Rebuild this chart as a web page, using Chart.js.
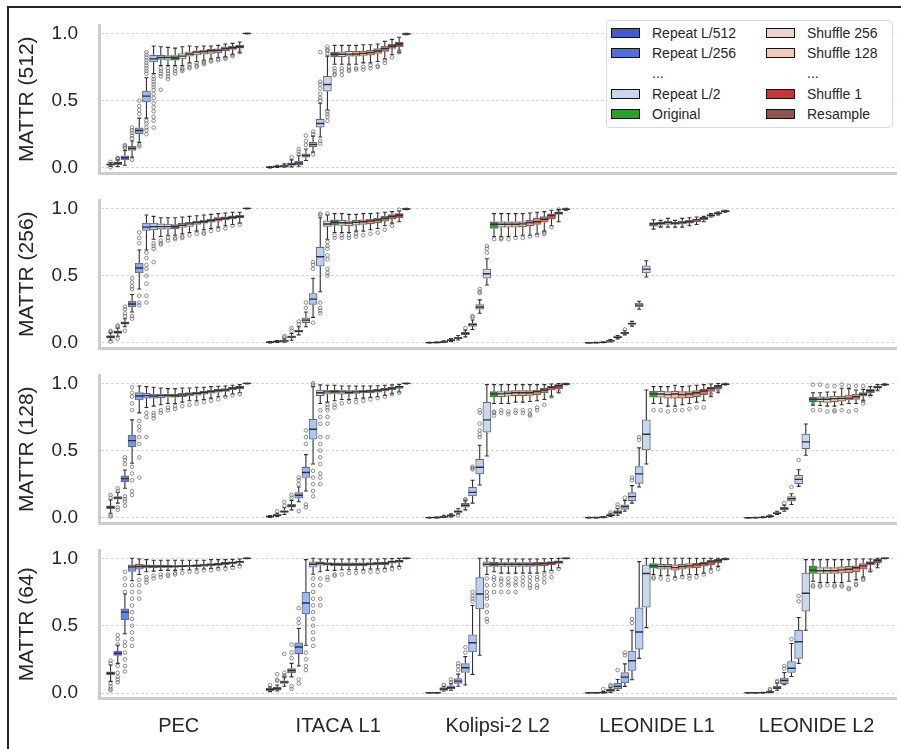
<!DOCTYPE html>
<html lang="en">
<head>
<meta charset="UTF-8">
<title>MATTR box plots</title>
<script src="https://cdn.jsdelivr.net/npm/chart.js"></script>
<style>
    body { margin: 0; background: #fff; font-family: "Liberation Sans", Arial, sans-serif; }
    #fig { position: relative; width: 901px; height: 749px; overflow: hidden; }
    #frame { position: absolute; left: 7px; top: 6px; width: 1000px; height: 1000px;
             border-left: 2px solid #222; border-top: 2px solid #222; }
    canvas { position: absolute; left: 0; }
    #legend { position: absolute; left: 606px; top: 20px; width: 285px; height: 106px;
              border: 1px solid #d9d9d9; border-radius: 4px; background: #fff; color: #262626; font-size: 14px; }
    .sw { position: absolute; width: 29px; height: 10px; box-sizing: border-box; border: 1.5px solid #111; }
    .lt { position: absolute; line-height: 16px; white-space: nowrap; }
</style>
</head>
<body>
<div id="fig">
    <div id="frame"></div>
    <canvas id="c0" width="901" height="160" style="top:18px"></canvas>
    <canvas id="c1" width="901" height="160" style="top:193px"></canvas>
    <canvas id="c2" width="901" height="160" style="top:368px"></canvas>
    <canvas id="c3" width="901" height="205" style="top:543px"></canvas>
    <div id="legend"></div>
</div>

<script>
// ---- data ----
const groupNames = ['PEC', 'ITACA L1', 'Kolipsi-2 L2', 'LEONIDE L1', 'LEONIDE L2'];
const yTitles = ['MATTR (512)', 'MATTR (256)', 'MATTR (128)', 'MATTR (64)'];

// hue order: Repeat L/512 .. L/2, Original, Shuffle 256 .. 1, Resample
const repeatColors = ['#4459cc', '#526edd', '#6384eb', '#7497f6', '#85a8fc', '#98b9ff', '#a9c6fd', '#b9d0f8', '#c9d8ef'];
const originalColor = '#2ca02c';
const shuffleColors = ['#e9d5ca', '#f1cbb7', '#f6bda2', '#f7ad8f', '#f49a7b', '#ed8468', '#e46d55', '#d65344', '#c73536'];
const resampleColor = '#8c564b';

// each box: [whisker low, q1, median, q3, whisker high]
const r512_PEC = [
    [.01, .02, .025, .03, .04], [.01, .025, .035, .045, .06], [.02, .06, .075, .09, .13], [.08, .13, .145, .16, .2],
    [.19, .255, .278, .298, .37], [.37, .49, .533, .57, .67], [.70, .787, .81, .836, .905], [.76, .806, .82, .836, .90],
    [.76, .80, .82, .835, .895], [.76, .80, .816, .835, .89], [.76, .81, .83, .85, .90], [.78, .83, .846, .862, .905],
    [.79, .84, .86, .87, .90], [.80, .845, .864, .875, .905], [.81, .85, .87, .88, .905], [.82, .855, .873, .885, .91],
    [.825, .87, .886, .90, .92], [.84, .88, .893, .905, .925], [.855, .89, .90, .91, .935], [.995, .998, .999, 1, 1]
];
const r512_ITACA = [
    [0, .002, .005, .008, .01], [.003, .007, .01, .013, .02], [.005, .01, .015, .02, .03], [.008, .018, .027, .037, .06],
    [.012, .025, .037, .05, .09], [.055, .08, .092, .105, .14], [.117, .157, .174, .19, .236], [.23, .303, .33, .36, .48],
    [.43, .57, .62, .68, .83], [.77, .826, .844, .861, .91], [.77, .826, .844, .863, .91], [.77, .83, .845, .865, .91],
    [.77, .83, .846, .865, .91], [.78, .835, .851, .868, .915], [.78, .838, .856, .873, .915], [.79, .85, .868, .886, .92],
    [.81, .866, .886, .905, .94], [.84, .888, .905, .92, .955], [.855, .90, .92, .935, .97], [.99, .993, .995, .997, 1]
];

const r256_PEC = [
    [.02, .035, .044, .055, .075], [.05, .07, .079, .09, .11], [.12, .14, .148, .157, .18], [.23, .267, .289, .309, .36],
    [.40, .519, .556, .593, .69], [.69, .835, .86, .89, .95], [.77, .84, .864, .89, .94], [.79, .845, .864, .885, .93],
    [.80, .845, .864, .883, .93], [.80, .848, .864, .879, .93], [.81, .858, .874, .889, .935], [.82, .865, .884, .896, .94],
    [.83, .88, .894, .905, .945], [.84, .89, .90, .91, .95], [.85, .897, .909, .92, .955], [.86, .905, .919, .93, .96],
    [.87, .914, .926, .937, .965], [.88, .922, .933, .943, .97], [.89, .928, .938, .948, .97], [.995, .998, .999, 1, 1]
];
const r256_ITACA = [
    [0, .003, .005, .007, .01], [.004, .008, .01, .013, .018], [.006, .011, .015, .02, .03], [.02, .037, .045, .053, .07],
    [.06, .08, .087, .095, .12], [.12, .151, .169, .186, .23], [.19, .285, .325, .367, .48], [.38, .57, .64, .71, .93],
    [.77, .865, .883, .907, .95], [.82, .875, .896, .915, .96], [.82, .872, .893, .91, .96], [.82, .87, .891, .907, .955],
    [.83, .875, .896, .91, .955], [.83, .88, .90, .915, .96], [.84, .885, .906, .92, .96], [.85, .893, .913, .927, .965],
    [.87, .905, .926, .94, .97], [.89, .92, .94, .953, .975], [.90, .93, .95, .96, .98], [.99, .993, .995, .998, 1]
];
const r256_KOL = [
    [0, .001, .002, .003, .004], [.001, .002, .003, .004, .006], [.003, .006, .008, .011, .015], [.01, .016, .02, .024, .032],
    [.022, .032, .037, .043, .055], [.045, .062, .07, .078, .095], [.10, .123, .136, .148, .17], [.22, .25, .267, .284, .32],
    [.43, .48, .514, .548, .625], [.79, .85, .881, .90, .96], [.79, .86, .881, .90, .96], [.79, .86, .881, .90, .96],
    [.79, .86, .881, .90, .96], [.80, .864, .884, .90, .96], [.80, .87, .894, .91, .965], [.81, .88, .90, .926, .97],
    [.83, .896, .918, .938, .975], [.87, .92, .946, .958, .985], [.90, .955, .965, .973, .99], [.985, .99, .993, .996, 1]
];
const r256_LEO1 = [
    [0, 0, .001, .002, .003], [0, .001, .002, .003, .005], [.001, .003, .004, .006, .009], [.008, .012, .015, .019, .025],
    [.03, .038, .042, .047, .055], [.06, .068, .074, .08, .09], [.125, .137, .143, .15, .16], [.25, .267, .281, .296, .31],
    [.49, .52, .548, .573, .61], [.845, .868, .884, .893, .915], [.86, .88, .889, .896, .91], [.86, .88, .894, .905, .925],
    [.86, .88, .889, .898, .91], [.86, .882, .894, .904, .925], [.87, .89, .90, .91, .93], [.88, .90, .914, .92, .935],
    [.90, .915, .926, .932, .94], [.935, .94, .948, .952, .96], [.95, .958, .963, .967, .972], [.97, .975, .978, .982, .985]
];

const r128_PEC = [
    [.035, .069, .079, .089, .134], [.11, .139, .149, .158, .19], [.22, .27, .292, .312, .356], [.406, .53, .574, .616, .728],
    [.78, .876, .906, .931, .98], [.82, .89, .908, .926, .975], [.83, .89, .906, .92, .97], [.84, .893, .908, .92, .965],
    [.85, .896, .908, .918, .96], [.85, .896, .908, .918, .96], [.86, .90, .913, .926, .965], [.87, .906, .92, .93, .965],
    [.87, .912, .926, .935, .97], [.88, .92, .931, .94, .97], [.89, .926, .938, .948, .975], [.90, .934, .946, .955, .978],
    [.905, .94, .95, .96, .98], [.92, .95, .963, .97, .985], [.93, .958, .97, .977, .99], [.995, .998, .999, 1, 1]
];
const r128_ITACA = [
    [.003, .007, .01, .013, .018], [.01, .016, .02, .025, .035], [.025, .04, .047, .055, .075], [.06, .08, .089, .10, .13],
    [.12, .146, .168, .188, .23], [.20, .30, .337, .376, .47], [.40, .584, .658, .733, .975], [.85, .908, .93, .95, .988],
    [.86, .92, .936, .95, .985], [.87, .925, .938, .95, .985], [.88, .92, .936, .95, .98], [.88, .922, .933, .945, .98],
    [.885, .925, .936, .946, .98], [.89, .928, .938, .948, .98], [.895, .93, .943, .952, .98], [.90, .934, .946, .955, .982],
    [.91, .943, .955, .963, .985], [.92, .95, .963, .97, .988], [.935, .962, .975, .98, .992], [.995, .998, .999, 1, 1]
];
const r128_KOL = [
    [0, .001, .002, .003, .005], [0, .002, .003, .004, .006], [.003, .006, .008, .012, .02], [.008, .013, .018, .022, .03],
    [.03, .04, .047, .055, .068], [.06, .079, .094, .109, .13], [.11, .163, .19, .228, .28], [.245, .327, .376, .436, .54],
    [.46, .636, .728, .859, .99], [.85, .90, .921, .938, .99], [.85, .90, .921, .938, .99], [.85, .905, .926, .943, .99],
    [.86, .908, .93, .946, .99], [.86, .908, .93, .946, .99], [.865, .91, .93, .946, .99], [.87, .915, .938, .95, .99],
    [.88, .93, .95, .962, .99], [.90, .95, .97, .977, .995], [.93, .96, .983, .99, .998], [.99, .993, .995, .998, 1]
];
const r128_LEO1 = [
    [0, .001, .002, .003, .004], [0, .001, .002, .003, .004], [.002, .004, .006, .008, .011], [.01, .015, .02, .025, .035],
    [.02, .03, .042, .054, .07], [.05, .064, .084, .097, .13], [.11, .129, .158, .188, .24], [.23, .257, .327, .381, .52],
    [.40, .505, .621, .728, .95], [.85, .896, .921, .941, .975], [.85, .896, .92, .94, .975], [.83, .89, .916, .938, .975],
    [.83, .89, .92, .941, .985], [.84, .89, .916, .938, .975], [.85, .893, .92, .938, .98], [.86, .90, .93, .946, .985],
    [.87, .915, .943, .955, .99], [.90, .94, .963, .972, .995], [.93, .96, .98, .985, .998], [.988, .99, .993, .996, 1]
];
const r128_LEO2 = [
    [0, 0, .001, .002, .003], [0, .001, .002, .003, .004], [.001, .003, .004, .006, .008], [.005, .009, .012, .016, .022],
    [.025, .03, .035, .04, .05], [.05, .06, .07, .08, .095], [.10, .124, .142, .159, .18], [.234, .254, .286, .316, .358],
    [.465, .515, .565, .622, .697], [.838, .863, .881, .896, .93], [.835, .863, .881, .90, .93], [.83, .858, .881, .90, .935],
    [.83, .863, .886, .905, .935], [.84, .868, .888, .905, .963], [.85, .876, .89, .913, .96], [.85, .88, .90, .92, .95],
    [.87, .905, .918, .93, .955], [.91, .93, .945, .955, .975], [.945, .963, .97, .98, .99], [.985, .988, .99, .993, .996]
];

const r64_PEC = [
    [.086, .137, .147, .157, .208], [.22, .279, .294, .311, .355], [.44, .544, .60, .625, .735], [.833, .902, .936, .951, 1],
    [.88, .919, .939, .956, .995], [.90, .929, .941, .951, .99], [.905, .929, .939, .949, .985], [.91, .932, .939, .947, .985],
    [.91, .932, .939, .947, .985], [.91, .934, .939, .945, .985], [.915, .935, .941, .948, .985], [.915, .936, .944, .95, .985],
    [.92, .938, .946, .952, .985], [.92, .94, .949, .955, .985], [.925, .944, .953, .96, .99], [.93, .947, .956, .963, .99],
    [.935, .953, .963, .97, .99], [.94, .958, .968, .974, .992], [.95, .966, .975, .98, .995], [.997, .999, 1, 1, 1]
];
const r64_ITACA = [
    [.01, .017, .027, .034, .045], [.015, .022, .034, .044, .06], [.05, .071, .081, .091, .12], [.12, .15, .167, .182, .22],
    [.20, .292, .342, .373, .48], [.354, .587, .668, .747, .99], [.882, .934, .956, .973, 1], [.90, .948, .963, .973, .995],
    [.91, .948, .958, .968, .995], [.91, .946, .956, .966, .995], [.915, .946, .956, .966, .995], [.915, .946, .956, .966, .995],
    [.915, .946, .956, .966, .995], [.915, .946, .956, .966, .995], [.92, .948, .958, .968, .995], [.92, .95, .96, .97, .995],
    [.925, .952, .963, .972, .997], [.935, .963, .975, .982, .998], [.94, .97, .98, .986, .999], [.997, .999, 1, 1, 1]
];
const r64_KOL = [
    [0, 0, .001, .002, .003], [0, .001, .002, .003, .004], [.015, .02, .03, .04, .05], [.02, .03, .039, .054, .07],
    [.05, .071, .088, .108, .14], [.06, .152, .187, .219, .27], [.138, .305, .373, .432, .65], [.28, .624, .735, .857, 1],
    [.88, .939, .956, .973, 1], [.90, .939, .956, .97, 1], [.89, .94, .956, .968, .995], [.89, .94, .956, .968, .995],
    [.89, .94, .956, .968, .995], [.89, .94, .956, .968, .995], [.89, .94, .956, .968, .995], [.89, .942, .958, .97, .995],
    [.90, .945, .96, .972, .997], [.91, .95, .965, .975, .998], [.93, .962, .973, .982, .999], [.997, .999, 1, 1, 1]
];
const r64_LEO1 = [
    [0, 0, .001, .002, .003], [0, .001, .002, .003, .004], [.001, .002, .004, .006, .01], [.005, .012, .02, .03, .04],
    [.02, .03, .049, .074, .10], [.049, .074, .118, .152, .216], [.098, .167, .24, .311, .466], [.257, .326, .453, .632, .975],
    [.485, .637, .887, .951, 1], [.88, .926, .944, .961, 1], [.87, .919, .939, .956, 1], [.87, .919, .939, .956, 1],
    [.86, .912, .931, .951, 1], [.87, .919, .939, .956, 1], [.88, .926, .944, .961, 1], [.88, .931, .951, .963, 1],
    [.89, .941, .961, .971, 1], [.92, .951, .975, .985, 1], [.94, .966, .985, .993, 1], [.99, .993, .995, .998, 1]
];
const r64_LEO2 = [
    [0, 0, .001, .002, .003], [0, .001, .002, .003, .004], [.001, .002, .003, .004, .006], [.003, .005, .007, .01, .014],
    [.02, .03, .037, .05, .074], [.061, .069, .093, .11, .152], [.123, .152, .184, .233, .368], [.22, .257, .38, .466, .56],
    [.466, .608, .74, .89, .99], [.83, .887, .912, .944, .99], [.82, .887, .907, .931, .99], [.82, .887, .907, .931, .99],
    [.82, .887, .907, .931, .99], [.82, .89, .914, .936, .99], [.83, .894, .919, .941, .99], [.84, .90, .93, .944, .995],
    [.86, .919, .944, .961, .995], [.90, .95, .963, .975, .995], [.93, .966, .985, .993, 1], [.997, .999, 1, 1, 1]
];

// outliers: [group, hue, values]
const out512 = [
    [0, 0, [.005, .045]], [0, 1, [.065, .07, .075]], [0, 2, [.15, .16, .17]], [0, 3, [.22, .24, .26, .28, .3, .06]],
    [0, 4, [.4, .43, .46, .5, .16, .17]], [0, 5, [.7, .72, .74, .76, .78, .8, .82, .84, .86, .35, .33, .3, .28, .25]],
    [0, 6, [.68, .66, .64, .62, .6, .58, .55, .52, .48, .45, .42, .38, .35, .3]], [0, 7, [.74, .72, .7, .68, .58]],
    [0, 8, [.74, .72, .7, .68, .66]], [0, 9, [.74, .72, .7]], [0, 10, [.74, .73, .72]], [0, 11, [.77, .75, .74]],
    [0, 12, [.78, .76, .75]], [0, 13, [.79, .78, .77]], [0, 14, [.8, .79]], [0, 15, [.81, .8]], [0, 16, [.82, .81]],
    [0, 17, [.84, .83]], [0, 18, [.86]],
    [1, 3, [.08]], [1, 4, [.1, .12, .14]], [1, 5, [.17, .2, .24]], [1, 6, [.25, .27, .1]], [1, 7, [.5, .52, .55, .59, .62, .64, .86, .2, .18]],
    [1, 8, [.85, .87, .88, .9, .42, .4, .38, .35]], [1, 9, [.74, .72, .7, .69]], [1, 10, [.74, .72, .69]], [1, 11, [.75, .73, .72]],
    [1, 12, [.74, .73]], [1, 13, [.75, .73]], [1, 14, [.76, .74]], [1, 15, [.76, .75]], [1, 16, [.8, .78]], [1, 17, [.82]], [1, 18, [.86, .87]]
];
const out256 = [
    [0, 0, [.01, .08, .09]], [0, 1, [.12, .13, .03]], [0, 2, [.2, .22, .25, .27, .09]], [0, 3, [.4, .42, .45, .48, .2, .18]],
    [0, 4, [.74, .78, .82, .35, .3, .28]], [0, 5, [.67, .63, .58, .55, .5, .44, .35, .3]], [0, 6, [.74, .72, .7, .6]],
    [0, 7, [.76, .74, .73]], [0, 8, [.78, .76]], [0, 9, [.78, .77]], [0, 10, [.79, .78]], [0, 11, [.8]], [0, 12, [.81]],
    [0, 13, [.82, .81]], [0, 14, [.83]], [0, 15, [.84]], [0, 16, [.85]], [0, 17, [.87]], [0, 18, [.88]],
    [1, 2, [.04, .05]], [1, 3, [.09, .11]], [1, 4, [.14, .16]], [1, 5, [.26, .3]], [1, 6, [.55, .58, .6, .15]],
    [1, 7, [.96, .95, .3, .26, .22, .24]], [1, 8, [.96, .75, .72, .7, .65, .62, .55, .52, .5]], [1, 9, [.78, .8]],
    [1, 10, [.78, .8]], [1, 11, [.78, .8]], [1, 12, [.79, .81]], [1, 13, [.8]], [1, 14, [.81]], [1, 15, [.82]],
    [1, 16, [.84]], [1, 17, [.87]], [1, 18, [.99]],
    [2, 5, [.11]], [2, 6, [.19, .2]], [2, 7, [.37, .38, .4]], [2, 8, [.67, .7, .72]], [2, 9, [.77]], [2, 10, [.77, .78]],
    [2, 11, [.77]], [2, 12, [.78]], [2, 13, [.78]], [2, 14, [.79]], [2, 15, [.8]], [2, 16, [.81, .82]], [2, 17, [.86]], [2, 18, [.99]],
    [3, 5, [.1]], [3, 10, [.87]], [3, 18, [.96]]
];
const out128 = [
    [0, 0, [.15, .17, .02, .01]], [0, 1, [.22, .2, .08, .06]], [0, 2, [.4, .43, .45, .16, .14, .12, .09]],
    [0, 3, [.97, .93, .9, .85, .8, .38, .33, .28, .2, .17]], [0, 4, [.72, .68, .65, .6, .55, .45, .3]],
    [0, 5, [.78, .75, .6]], [0, 6, [.78, .76, .74]], [0, 7, [.8, .78]], [0, 8, [.82, .8]], [0, 9, [.83, .81]],
    [0, 10, [.83]], [0, 11, [.84]], [0, 12, [.85]], [0, 13, [.86]], [0, 14, [.87]], [0, 15, [.88]], [0, 16, [.9]],
    [0, 17, [.91]], [0, 18, [.92]],
    [1, 1, [.05]], [1, 2, [.09, .12]], [1, 3, [.15, .17]], [1, 4, [.3, .25, .28, .05]], [1, 5, [.55, .6, .65, .1, .08]],
    [1, 6, [1, .99, .35, .3, .25, .2, .16]], [1, 7, [.8, .75, .7, .6, .55, .5, .45, .4, .33, .3, .25]],
    [1, 8, [.84, .82, .8, .75, .7, .6]], [1, 9, [.84, .82]], [1, 10, [.85]], [1, 11, [.86]], [1, 12, [.86]],
    [1, 13, [.87]], [1, 14, [.88]], [1, 15, [.89]], [1, 16, [.9]], [1, 17, [.92]], [1, 18, [.93]],
    [2, 4, [.02]], [2, 5, [.14, .13]], [2, 6, [.36, .37, .38]], [2, 7, [.6, .62, .65, .7, .78, .8]], [2, 9, [.79, .78, .76]],
    [2, 10, [.8, .78]], [2, 11, [.79, .77]], [2, 12, [.8, .78]], [2, 13, [.8, .78]], [2, 14, [.8, .77, .76]],
    [2, 15, [.82, .8]], [2, 16, [.84]], [2, 17, [.9]], [2, 18, [.94]],
    [3, 3, [.04]], [3, 4, [.08, .1]], [3, 5, [.15]], [3, 6, [.28, .3]], [3, 7, [.58, .6]], [3, 9, [.8]], [3, 10, [.8]],
    [3, 11, [.79]], [3, 12, [.8]], [3, 13, [.8]], [3, 14, [.81]], [3, 15, [.82]], [3, 16, [.82]], [3, 17, [.92]], [3, 18, [.95]],
    [4, 5, [.11]], [4, 6, [.23]], [4, 7, [.43]], [4, 9, [.99, .8, .85]], [4, 10, [.99, .8]], [4, 11, [.98, .79]],
    [4, 12, [.98, .79, .8]], [4, 13, [.99, .8]], [4, 14, [.98, .79]], [4, 15, [.98, .8]], [4, 16, [.98, .87, .85]],
    [4, 17, [.91]], [4, 18, [.96]]
];
const out64 = [
    [0, 0, [.02, .03, .05, .07, .22, .24]], [0, 1, [.08, .1, .12, .15, .2, .36, .4, .43]],
    [0, 2, [.16, .2, .25, .3, .35, .38, .75, .8, .85, .9]], [0, 3, [.8, .75, .7, .65, .6, .55, .5, .45, .4, .35]],
    [0, 4, [.84, .8, .75, .7]], [0, 5, [.86, .84, .82]], [0, 6, [.87, .85]], [0, 7, [.88, .86]], [0, 8, [.88, .87]],
    [0, 9, [.89, .88]], [0, 10, [.89]], [0, 11, [.9]], [0, 12, [.9]], [0, 13, [.91]], [0, 14, [.91]], [0, 15, [.92]],
    [0, 16, [.92]], [0, 17, [.93]], [0, 18, [.94]],
    [1, 0, [.06]], [1, 1, [.14, .09, .1]], [1, 2, [.29, .15, .13, .12]], [1, 3, [.36, .3, .26, .05, .03]],
    [1, 4, [.63, .55, .52, .1, .07]], [1, 5, [.3, .25, .2, .17]],
    [1, 6, [.85, .8, .75, .7, .65, .6, .55, .5, .45, .4, .35]], [1, 7, [.85, .8, .7, .65]], [1, 8, [.86, .84]],
    [1, 9, [.88, .87]], [1, 10, [.88]], [1, 11, [.89]], [1, 12, [.89]], [1, 13, [.9]], [1, 14, [.9]], [1, 15, [.9]],
    [1, 16, [.91]], [1, 17, [.92]], [1, 18, [.93]],
    [2, 2, [.06]], [2, 3, [.08, .1]], [2, 4, [.17, .2, .22]], [2, 5, [.3, .34]], [2, 6, [.75, .72, .7, .68]],
    [2, 8, [.85, .8, .75, .72, .7, .65, .6, .55, .53]], [2, 9, [.86, .84, .8, .75]], [2, 10, [.85, .83, .8, .75]],
    [2, 11, [.85, .82, .8, .75]], [2, 12, [.85, .82, .8, .75]], [2, 13, [.86, .83, .8]], [2, 14, [.86, .83, .8, .78]],
    [2, 15, [.86, .84, .8, .78]], [2, 16, [.88, .85, .82]], [2, 17, [.9, .86]], [2, 18, [.92]],
    [3, 2, [.03]], [3, 3, [.05, .06]], [3, 4, [.17]], [3, 5, [.3, .28]], [3, 6, [.55, .52]], [3, 9, [.85, .86]],
    [3, 10, [.85]], [3, 11, [.84]], [3, 12, [.85]], [3, 13, [.86]], [3, 14, [.85, .87]], [3, 15, [.86]], [3, 16, [.88]],
    [3, 17, [.9]], [3, 18, [.92]],
    [4, 3, [.02, .03]], [4, 4, [.08, .09]], [4, 5, [.18, .2]], [4, 6, [.4]], [4, 7, [.68, .72]], [4, 9, [.79, .8]],
    [4, 10, [.79, .8]], [4, 11, [.8]], [4, 12, [.79, .8]], [4, 13, [.79, .8]], [4, 14, [.77, .78]], [4, 15, [.8, .81]],
    [4, 16, [.84, .85]], [4, 17, [.91]], [4, 18, [.96]]
];

const rowGroups = [
    [r512_PEC, r512_ITACA, null, null, null],
    [r256_PEC, r256_ITACA, r256_KOL, r256_LEO1, null],
    [r128_PEC, r128_ITACA, r128_KOL, r128_LEO1, r128_LEO2],
    [r64_PEC, r64_ITACA, r64_KOL, r64_LEO1, r64_LEO2]
];
const rowOutliers = [out512, out256, out128, out64];

const legendLeft = [['Repeat L/512', repeatColors[0]], ['Repeat L/256', repeatColors[1]], ['...', null], ['Repeat L/2', repeatColors[8]], ['Original', originalColor]];
const legendRight = [['Shuffle 256', shuffleColors[0]], ['Shuffle 128', shuffleColors[1]], ['...', null], ['Shuffle 1', shuffleColors[8]], ['Resample', resampleColor]];

// ---- drawing ----
const boxColors = repeatColors.concat([originalColor], shuffleColors, [resampleColor]);
const fontFamily = '"Liberation Sans", Arial, sans-serif';
const textColor = '#262626';

function huePos(g, h) {
    return g + 0.5 + (h - 9.5) * 0.045;
}

// whiskers under the boxes, medians on top
const boxLines = {
    id: 'boxLines',
    beforeDatasetsDraw(chart) { drawParts(chart, false); },
    afterDatasetsDraw(chart) { drawParts(chart, true); }
};

function drawParts(chart, median) {
    const ds = chart.data.datasets[0];
    const xs = chart.scales.x;
    const ys = chart.scales.y;
    const ctx = chart.ctx;
    ctx.save();
    ctx.strokeStyle = '#303030';
    ctx.lineWidth = median ? 1.4 : 1.1;
    ctx.beginPath();
    ds.stats.forEach(function (s, i) {
        const px = xs.getPixelForValue(ds.data[i].x);
        if (median) {
            const py = ys.getPixelForValue(s[2]);
            ctx.moveTo(px - 4, py);
            ctx.lineTo(px + 4, py);
        } else {
            const lo = ys.getPixelForValue(s[0]);
            const hi = ys.getPixelForValue(s[4]);
            ctx.moveTo(px, lo);
            ctx.lineTo(px, ys.getPixelForValue(s[1]));
            ctx.moveTo(px, ys.getPixelForValue(s[3]));
            ctx.lineTo(px, hi);
            ctx.moveTo(px - 2, lo);
            ctx.lineTo(px + 2, lo);
            ctx.moveTo(px - 2, hi);
            ctx.lineTo(px + 2, hi);
        }
    });
    ctx.stroke();
    ctx.restore();
}

function makeRow(r) {
    const last = r === 3;
    const boxes = [];
    const stats = [];
    const colors = [];
    rowGroups[r].forEach(function (group, g) {
        if (!group) return;
        group.forEach(function (s, h) {
            boxes.push({ x: huePos(g, h), y: [s[1], s[3]] });
            stats.push(s);
            colors.push(boxColors[h]);
        });
    });
    const points = [];
    rowOutliers[r].forEach(function (o) {
        o[2].forEach(function (v) {
            points.push({ x: huePos(o[0], o[1]), y: v });
        });
    });

    new Chart(document.getElementById('c' + r), {
        type: 'bar',
        data: {
            datasets: [{
                type: 'bar',
                data: boxes,
                stats: stats,
                backgroundColor: colors,
                borderColor: '#6a6a6a',
                borderWidth: 1,
                borderSkipped: false,
                barThickness: 8,
                order: 2
            }, {
                type: 'scatter',
                data: points,
                pointRadius: 1.8,
                pointBorderWidth: 0.7,
                borderColor: '#5f5f5f',
                backgroundColor: 'rgba(255,255,255,0)',
                order: 1
            }]
        },
        options: {
            responsive: false,
            animation: false,
            layout: { padding: { top: 7.2, bottom: 4.6, left: 0, right: 2 } },
            plugins: { legend: { display: false }, tooltip: { enabled: false } },
            scales: {
                x: {
                    type: 'linear',
                    min: 0,
                    max: 5,
                    offset: false,
                    grid: { display: false, drawTicks: false },
                    border: { display: true, color: '#cccccc', width: 3 },
                    afterBuildTicks: function (s) {
                        s.ticks = groupNames.map(function (n, i) { return { value: i + 0.5 }; });
                    },
                    ticks: {
                        display: last,
                        autoSkip: false,
                        maxRotation: 0,
                        padding: 16,
                        color: textColor,
                        font: { family: fontFamily, size: 20 },
                        callback: function (v) { return groupNames[Math.floor(v)]; }
                    },
                    afterFit: function (s) {
                        s.height = last ? 45 : 0;
                        s.paddingLeft = 0;
                        s.paddingRight = 0;
                    }
                },
                y: {
                    min: -0.04,
                    max: 1.06,
                    grid: { color: '#cdcdcd', lineWidth: 0.8, drawTicks: false },
                    border: { display: true, color: '#cccccc', width: 3, dash: [3, 2] },
                    ticks: {
                        stepSize: 0.5,
                        includeBounds: false,
                        padding: 21,
                        color: textColor,
                        font: { family: fontFamily, size: 19 },
                        callback: function (v) { return v.toFixed(1); }
                    },
                    title: {
                        display: true,
                        text: yTitles[r],
                        color: textColor,
                        font: { family: fontFamily, size: 21 },
                        padding: { top: 15, bottom: 0 }
                    },
                    // keep the plot area fixed: no extra room for tick labels
                    afterFit: function (s) {
                        s.width = 99;
                        s.paddingTop = 0;
                        s.paddingBottom = 0;
                    }
                }
            }
        },
        plugins: [boxLines]
    });
}

for (let r = 0; r < 4; r++) makeRow(r);

// legend
const legend = document.getElementById('legend');
function addLegendColumn(items, swLeft, textLeft) {
    items.forEach(function (it, i) {
        const cy = 11.7 + 20.3 * i;
        if (it[1]) {
            const sw = document.createElement('div');
            sw.className = 'sw';
            sw.style.left = swLeft + 'px';
            sw.style.top = (cy - 5) + 'px';
            sw.style.background = it[1];
            legend.appendChild(sw);
        }
        const t = document.createElement('div');
        t.className = 'lt';
        t.style.left = textLeft + 'px';
        t.style.top = (cy - 8) + 'px';
        t.textContent = it[0];
        legend.appendChild(t);
    });
}
addLegendColumn(legendLeft, 4, 45);
addLegendColumn(legendRight, 159, 200);
</script>
</body>
</html>
